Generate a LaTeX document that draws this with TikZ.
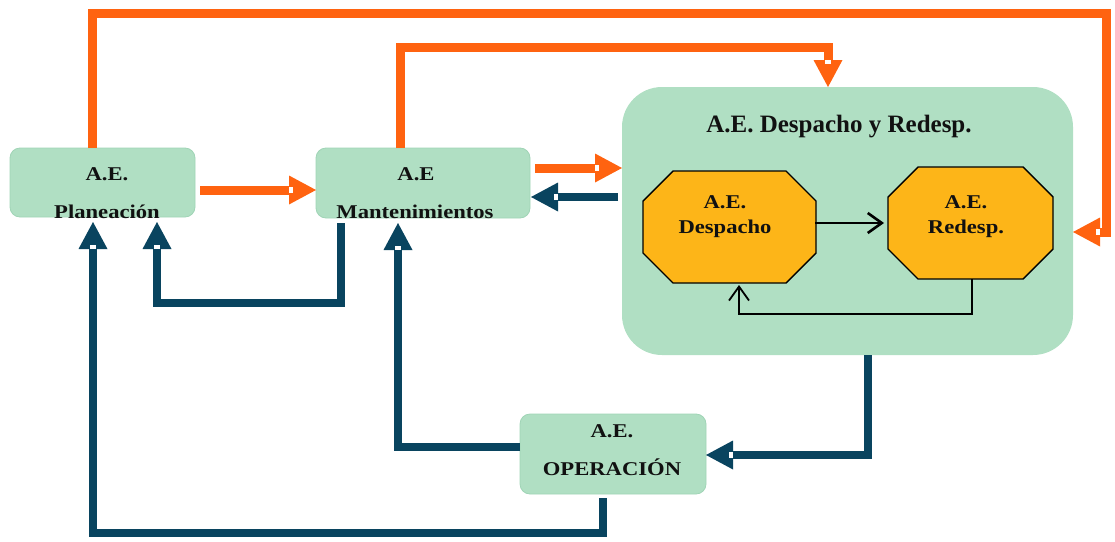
\documentclass[tikz,border=0pt]{standalone}
\usepackage{fontspec}
\setmainfont{Liberation Serif}[FakeStretch=1.16]
\newfontfamily\headfont{Liberation Serif}
\usetikzlibrary{arrows.meta,calc,decorations.markings}

\definecolor{boxgreen}{RGB}{176,223,195}
\definecolor{boxedge}{RGB}{160,212,182}
\definecolor{octfill}{RGB}{253,181,24}
\definecolor{flowor}{RGB}{255,99,16}
\definecolor{flownavy}{RGB}{9,68,95}
\definecolor{ink}{RGB}{17,17,17}

\tikzset{
  area/.style={fill=boxgreen, draw=boxedge, line width=0.8pt, rounded corners=10pt,
    inner sep=0pt, outer sep=0pt},
  octarea/.style={draw=none, inner sep=0pt, outer sep=0pt},
  octline/.style={draw=black, line width=1.4pt, fill=octfill, line join=miter},
  lbl/.style={anchor=base, inner sep=0pt, text=ink,
    font=\fontsize{19.5}{22}\selectfont\bfseries},
  headlbl/.style={lbl, font=\headfont\fontsize{25}{28}\selectfont\bfseries},
  notch/.style={postaction={decorate, decoration={markings,
    mark=at position 1 with {\fill[white] (-27,-3.3) rectangle (-23,3.3);}}}},
  bigflow/.style={line width=9pt, line join=miter, line cap=butt,
    -{Triangle[length=27pt,width=29pt,line width=0pt]}, notch},
  orflow/.style={bigflow, draw=flowor},
  nvflow/.style={bigflow, draw=flownavy, line width=8pt},
  thinflow/.style={draw=black, line width=2.6pt, line join=miter,
    -{Straight Barb[length=14pt,width=20pt]}},
  thinnerflow/.style={thinflow, line width=1.8pt},
}

\begin{document}
\begin{tikzpicture}[x=1pt, y=-1pt]
  \useasboundingbox (0,0) rectangle (1115,541);

  % boxes
  \node[area, minimum width=185pt, minimum height=69pt] (plan) at (102.5,182.5) {};
  \node[area, minimum width=214pt, minimum height=70pt] (mant) at (423,183) {};
  \node[area, minimum width=186pt, minimum height=80pt] (oper) at (613,454) {};
  \node[area, rounded corners=40pt, draw=none, minimum width=451pt, minimum height=268pt] (grp) at (847.5,221) {};

  % octagons inside the group
  \node[octarea, minimum width=173pt, minimum height=112pt] (desp) at (729.5,227) {};
  \node[octarea, minimum width=165pt, minimum height=112pt] (redesp) at (970.5,223) {};
  \foreach \o in {desp,redesp}{
    \draw[octline]
      ($(\o.north west)+(30,0)$) -- ($(\o.north east)+(-30,0)$)
      -- ($(\o.north east)+(0,30)$) -- ($(\o.south east)+(0,-30)$)
      -- ($(\o.south east)+(-30,0)$) -- ($(\o.south west)+(30,0)$)
      -- ($(\o.south west)+(0,-30)$) -- ($(\o.north west)+(0,30)$) -- cycle;
  }

  % labels
  \node[lbl] (planA) at (107,180) {A.E.};
  \node[lbl] (planB) at (107,218) {Planeación};
  \node[lbl] (mantA) at (416,180) {A.E};
  \node[lbl] (mantB) at (415,218) {Mantenimientos};
  \node[headlbl] (grpT) at (839,132) {A.E. Despacho y Redesp.};
  \node[lbl] (despA) at (725,208) {A.E.};
  \node[lbl] (despB) at (725,233) {Despacho};
  \node[lbl] (redA) at (966,208) {A.E.};
  \node[lbl] (redB) at (966,233) {Redesp.};
  \node[lbl] (operA) at (612,437) {A.E.};
  \node[lbl] (operB) at (612,475) {OPERACIÓN};

  % orange flows
  \draw[orflow] ($(plan.north)+(-10,0)$) |- (1106,13) |- ($(grp.east)+(0,11)$);
  \draw[orflow] ($(mant.north)+(-23,0)$) |- (828,47) -- ($(grp.north)+(-19.5,0)$);
  \draw[orflow] ($(plan.east)+(5,7.5)$) -- ($(mant.west)+(0,7)$);
  \draw[orflow] ($(mant.east)+(5,-15)$) -- ($(grp.west)+(0,-53)$);

  % navy flows
  \draw[nvflow] ($(grp.west)+(-4,-24)$) -- ($(mant.east)+(1,14)$);
  \draw[nvflow] ($(mant.south)+(-82,5)$) |- (157,303) -- ($(plan.south)+(54.5,5)$);
  \draw[nvflow] ($(oper.south)+(-10,4)$) |- (93,533) -- ($(plan.south)+(-9.5,5)$);
  \draw[nvflow] ($(oper.west)+(0,-7)$) -| ($(mant.south)+(-25,5)$);
  \draw[nvflow] ($(grp.south)+(20.5,0)$) |- ($(oper.east)+(0,1)$);

  % black flows between the octagons
  \draw[thinflow] ($(desp.east)+(-1,-4)$) -- ($(redesp.west)+(-4,0)$);
  \draw[thinnerflow] ($(redesp.south)+(1.5,0)$) |- (739,314) -- ($(desp.south)+(9.5,2)$);
\end{tikzpicture}
\end{document}
